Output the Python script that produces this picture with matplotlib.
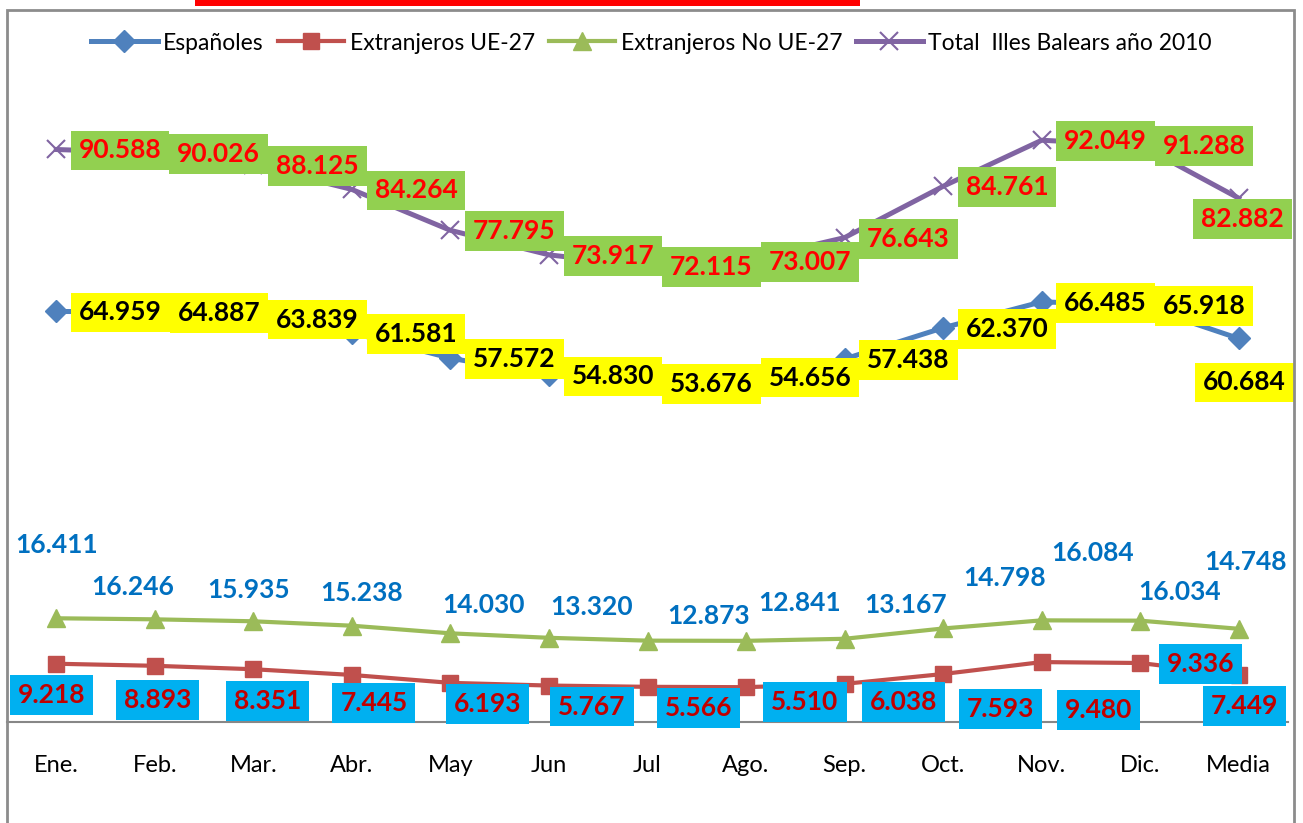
"""Evolución mensual de población por nacionalidad, Illes Balears 2010."""

import matplotlib

matplotlib.use("Agg")
import matplotlib.pyplot as plt
from matplotlib.patches import Rectangle

plt.rcParams["font.family"] = ["Lato", "DejaVu Sans"]

# Datos
months = ["Ene.", "Feb.", "Mar.", "Abr.", "May", "Jun", "Jul", "Ago.", "Sep.",
          "Oct.", "Nov.", "Dic.", "Media"]
espanoles = [64.959, 64.887, 63.839, 61.581, 57.572, 54.830, 53.676, 54.656,
             57.438, 62.370, 66.485, 65.918, 60.684]
ext_ue27 = [9.218, 8.893, 8.351, 7.445, 6.193, 5.767, 5.566, 5.510, 6.038,
            7.593, 9.480, 9.336, 7.449]
ext_no_ue27 = [16.411, 16.246, 15.935, 15.238, 14.030, 13.320, 12.873, 12.841,
               13.167, 14.798, 16.084, 16.034, 14.748]
total = [90.588, 90.026, 88.125, 84.264, 77.795, 73.917, 72.115, 73.007,
         76.643, 84.761, 92.049, 91.288, 82.882]

# Label offsets in pixels (dx right, dy down), as placed in the original chart
off_total = [(64, 1)] * 12 + [(4, 21)]
off_esp = [(64, 1)] * 12 + [(6, 44)]
off_no_ue = [(0, -73), (-22, -32), (-5, -31), (10, -33), (33, -28), (43, -31),
             (61, -25), (54, -38), (61, -34), (61, -50), (51, -67), (39, -29),
             (7, -67)]
off_ue = [(-5, 31), (3, 34), (14, 32), (22, 28), (37, 21), (43, 21), (51, 21),
          (59, 15), (59, 18), (57, 35), (57, 48), (60, 1), (6, 31)]

W, H = 1303, 823
fig = plt.figure(figsize=(W / 100, H / 100), dpi=100)
ax = fig.add_axes([7 / W, (H - 722) / H, 1281 / W, 632 / H])

x = list(range(len(months)))
ax.plot(x, espanoles, color="#4F81BD", lw=3.6, marker="D", ms=11,
        label="Españoles", zorder=3)
ax.plot(x, ext_ue27, color="#C0504D", lw=3.0, marker="s", ms=12,
        label="Extranjeros UE-27", zorder=3)
ax.plot(x, ext_no_ue27, color="#9BBB59", lw=3.0, marker="^", ms=13,
        label="Extranjeros No UE-27", zorder=3)
ax.plot(x, total, color="#8064A2", lw=3.6, marker="x", ms=13, mew=1.5,
        label="Total  Illes Balears año 2010", zorder=3)

ax.set_xlim(-0.5, len(months) - 0.5)
ax.set_ylim(0, 100)
ax.set_xticks(x)
ax.set_xticklabels(months, fontsize=17)
ax.tick_params(axis="x", length=0, pad=24)
ax.set_yticks([])
for side in ["left", "right", "top"]:
    ax.spines[side].set_visible(False)
ax.spines["bottom"].set_color("#878787")
ax.spines["bottom"].set_linewidth(1.5)
ax.patch.set_alpha(0)


def add_labels(values, offsets, text_color, box_color):
    for i, v in enumerate(values):
        dx, dy = offsets[i]
        bbox = None
        if box_color is not None:
            bbox = dict(boxstyle="square,pad=0.3", facecolor=box_color,
                        edgecolor="none")
        ax.annotate(f"{v:.3f}", xy=(i, v), xytext=(dx, -dy),
                    textcoords="offset pixels", ha="center", va="center",
                    fontsize=19, fontweight="bold", color=text_color,
                    bbox=bbox, zorder=5, annotation_clip=False)


add_labels(total, off_total, "#FF0000", "#92D050")
add_labels(espanoles, off_esp, "#000000", "#FFFF00")
add_labels(ext_no_ue27, off_no_ue, "#0070C0", None)
add_labels(ext_ue27, off_ue, "#C00000", "#00B0F0")

fig.legend(loc="center", bbox_to_anchor=(0.5, 1 - 43 / H), ncol=4,
           frameon=False, fontsize=16.5, handlelength=2.9, columnspacing=0.6,
           handletextpad=0.25)

# chart border and the cut-off title box
fig.add_artist(Rectangle((7 / W, -0.02), 1287 / W, 1.02 - 10 / H,
                         transform=fig.transFigure, fill=False,
                         edgecolor="#8C8C8C", lw=2))
fig.add_artist(Rectangle((195 / W, 1 - 6 / H), 665 / W, 6 / H,
                         transform=fig.transFigure, facecolor="#FF0000",
                         edgecolor="none"))

fig.savefig("out.png", dpi=100)
plt.close(fig)
